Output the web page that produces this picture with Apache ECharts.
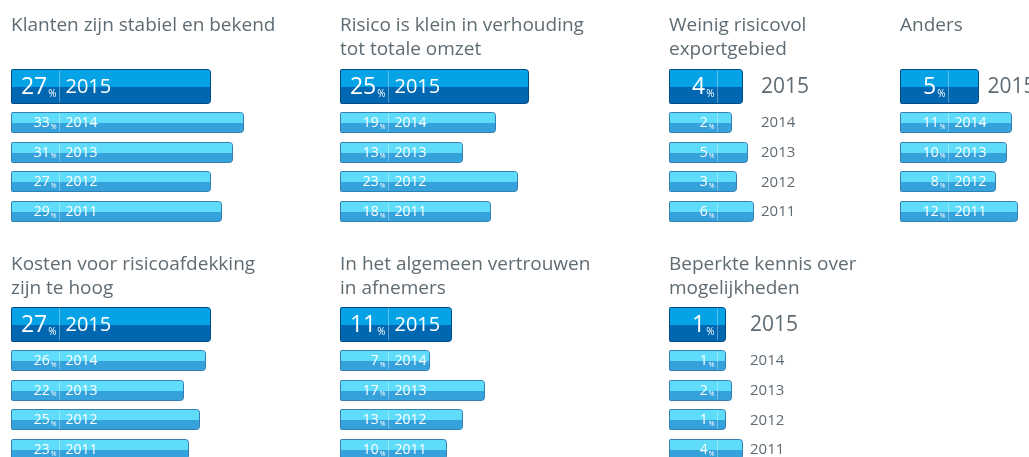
<!DOCTYPE html>
<html>
<head>
<meta charset="utf-8">
<script src="https://cdn.jsdelivr.net/npm/echarts@6/dist/echarts.min.js"></script>
<style>
html, body { margin: 0; padding: 0; background: #fff; }
#main { width: 1029px; height: 457px; }
</style>
</head>
<body>
<div id="main"></div>
<script>
// data
var years = ['2015', '2014', '2013', '2012', '2011'];
var klanten = [27, 33, 31, 27, 29];
var risico = [25, 19, 13, 23, 18];
var weinig = [4, 2, 5, 3, 6];
var anders = [5, 11, 10, 8, 12];
var kosten = [27, 26, 22, 25, 23];
var vertrouwen = [11, 7, 17, 13, 10];
var kennis = [1, 1, 2, 1, 4];

var titles = [
    'Klanten zijn stabiel en bekend',
    'Risico is klein in verhouding\ntot totale omzet',
    'Weinig risicovol\nexportgebied',
    'Anders',
    'Kosten voor risicoafdekking\nzijn te hoog',
    'In het algemeen vertrouwen\nin afnemers',
    'Beperkte kennis over\nmogelijkheden'
];

// layout per panel (outside: years drawn in a grey column right of the bars)
var AXIS_MIN = -9.2;   // label area in front of the zero line
var SCALE = 5.5;       // px per percent
var LABEL_W = 48;      // width of the value label box inside a bar
var FONT = '"Open Sans", sans-serif';
var panels = [
    { values: klanten,    left: 11,  titleTop: 14,  top: 77.5,  max: 35, outside: false },
    { values: risico,     left: 340, titleTop: 14,  top: 77.5,  max: 35, outside: false },
    { values: weinig,     left: 669, titleTop: 14,  top: 77.5,  max: 10, outside: true },
    { values: anders,     left: 900, titleTop: 14,  top: 77.5,  max: 13, outside: false },
    { values: kosten,     left: 11,  titleTop: 253, top: 315.5, max: 35, outside: false },
    { values: vertrouwen, left: 340, titleTop: 253, top: 315.5, max: 35, outside: false },
    { values: kennis,     left: 669, titleTop: 253, top: 315.5, max: 10, outside: true }
];

var BIG = { top: '#05a3e5', bot: '#0067b0', line: '#004a86' };
var SMALL = { top: '#5edcf9', bot: '#35a2dc', line: '#3580b2' };
var GREY = '#5f6b73';

function makeRender(p) {
    var pmax = Math.max.apply(null, p.values);
    return function (params, api) {
        var idx = api.value(1);
        var v = api.value(0);
        var big = idx === 0;
        var c = big ? BIG : SMALL;
        var start = api.coord([AXIS_MIN, idx]);
        var end = api.coord([v, idx]);
        var h = big ? 34 : 20;
        var cy = start[1] - (big ? 6 : 0);
        var x0 = Math.round(start[0]) + 0.5;
        var xd = x0 + LABEL_W;
        var xe = Math.round(end[0]) + 0.5;
        var y0 = Math.round(cy - h / 2) + 0.5;
        var w = xe - x0;

        var kids = [
            { type: 'rect', shape: { x: x0, y: y0, width: w, height: h, r: [1, 3, 3, 1] },
              style: { fill: c.bot, stroke: c.line, lineWidth: 1 } },
            { type: 'rect', shape: { x: x0 + 0.5, y: y0 + 0.5, width: w - 1, height: Math.floor(h / 2), r: [1, 2.5, 0, 0] },
              style: { fill: c.top } },
            { type: 'line', shape: { x1: xd, y1: y0 + 1, x2: xd, y2: y0 + h - 1 },
              style: { stroke: 'rgba(255,255,255,0.35)', lineWidth: 1 } },
            { type: 'text', style: {
                x: xd - 3, y: cy + 1, text: '{n|' + v + '}{p|%}',
                align: 'right', verticalAlign: 'middle',
                rich: {
                    n: { fontFamily: FONT, fontSize: big ? 23 : 14, fill: '#fff', lineHeight: big ? 26 : 16 },
                    p: { fontFamily: FONT, fontSize: big ? 10 : 7, fill: '#fff', verticalAlign: 'bottom', padding: [0, 0, 1, 1] }
                } } }
        ];

        var room = xe - xd;
        var need = big ? 50 : 36;
        var yearOut = p.outside || room < need;
        var yx = p.outside ? Math.round(api.coord([pmax, idx])[0]) + 8 : (yearOut ? xe + 9 : xd + 6);
        kids.push({ type: 'text', style: {
            x: yx, y: cy + 1, text: years[idx],
            align: 'left', verticalAlign: 'middle',
            fontFamily: FONT, fontSize: yearOut ? (big ? 21 : 15) : (big ? 20 : 14),
            fill: yearOut ? GREY : '#fff'
        } });
        return { type: 'group', children: kids };
    };
}

var option = {
    animation: false,
    title: [],
    grid: [],
    xAxis: [],
    yAxis: [],
    series: []
};

panels.forEach(function (p, i) {
    option.title.push({
        text: titles[i], left: p.left, top: p.titleTop,
        textStyle: { fontFamily: FONT, fontSize: 19, fontWeight: 'normal', color: GREY, lineHeight: 24 },
        padding: 0
    });
    option.grid.push({
        left: p.left, top: p.top, width: (p.max - AXIS_MIN) * SCALE, height: 148.5,
        outerBoundsMode: 'none'
    });
    option.xAxis.push({ gridIndex: i, type: 'value', min: AXIS_MIN, max: p.max, show: false });
    option.yAxis.push({ gridIndex: i, type: 'category', data: years, inverse: true, show: false });
    option.series.push({
        type: 'custom',
        xAxisIndex: i,
        yAxisIndex: i,
        renderItem: makeRender(p),
        encode: { x: 0, y: 1 },
        data: p.values.map(function (v, k) { return [v, k]; })
    });
});

var myChart = echarts.init(document.getElementById('main'), null, { renderer: 'canvas' });
myChart.setOption(option);
</script>
</body>
</html>
